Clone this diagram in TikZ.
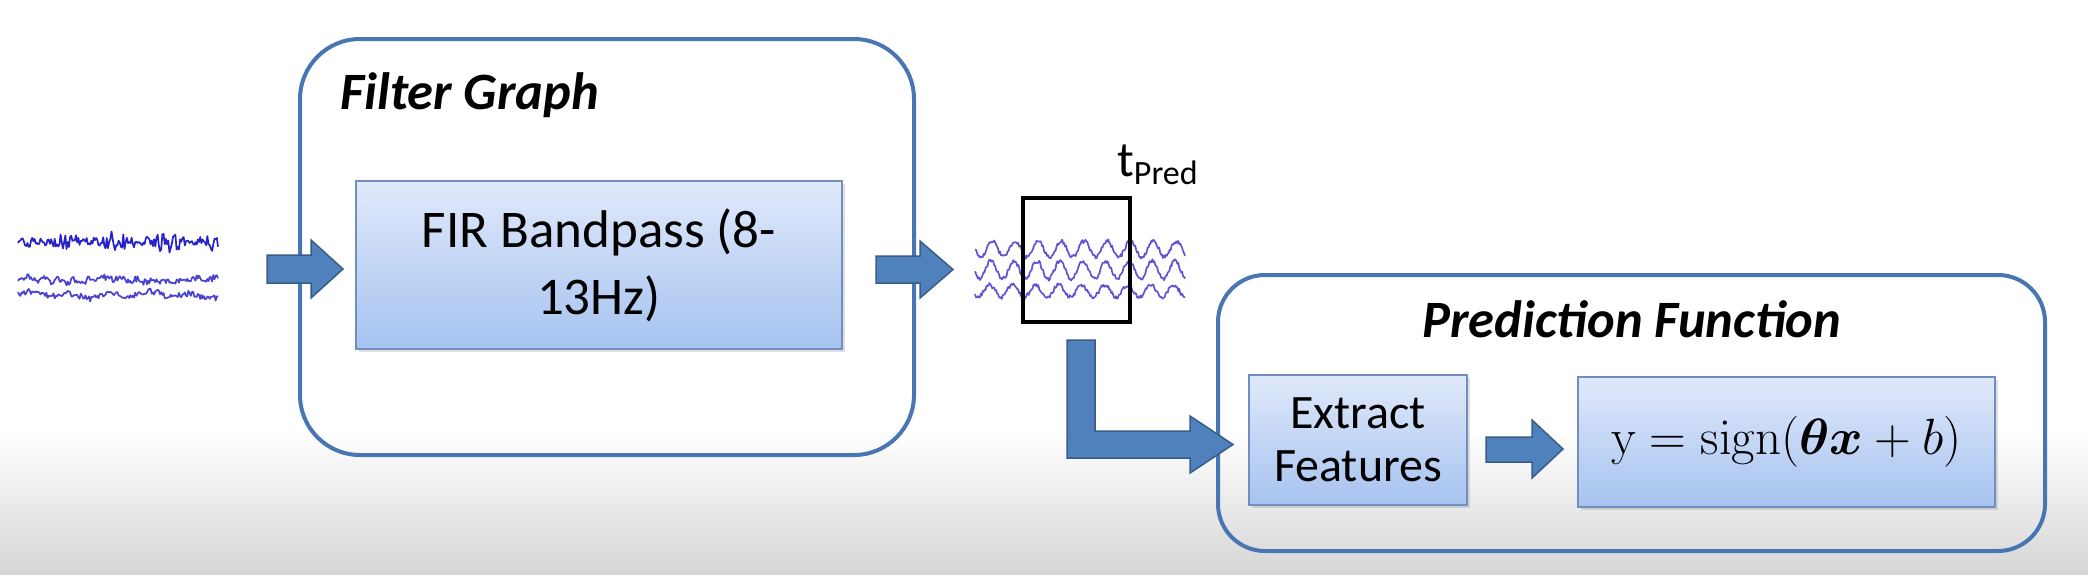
\RequirePackage{fix-cm}
\documentclass[tikz,border=0pt]{standalone}
\usepackage{amsmath}
\usepackage[no-math]{fontspec}
\setmainfont{Carlito}
\usetikzlibrary{shadows}
\definecolor{frameblue}{RGB}{72,118,178}
\definecolor{arrowfill}{RGB}{79,129,189}
\definecolor{arrowline}{RGB}{56,93,138}
\definecolor{boxtop}{RGB}{224,233,250}
\definecolor{boxbot}{RGB}{166,195,240}
\definecolor{boxline}{RGB}{112,142,190}
\definecolor{eegdark}{RGB}{40,35,200}
\definecolor{eeglight}{RGB}{95,85,210}
\begin{document}
\begin{tikzpicture}[x=1pt,y=-1pt,
  groupbox/.style={draw=frameblue, line width=4pt, rounded corners=#1, inner sep=0pt},
  groupbox/.default=60pt,
  procbox/.style={draw=boxline, line width=2pt, top color=boxtop, bottom color=boxbot,
    drop shadow={shadow xshift=3pt, shadow yshift=-3pt, opacity=0.25},
    inner sep=0pt, align=center},
  blockarrow/.style={fill=arrowfill, draw=arrowline, line width=1.5pt, line join=miter},
  eeg/.style={line width=1.7pt, line join=round},
  title/.style={anchor=base west, inner sep=0pt, font=\fontsize{52.5}{60}\selectfont\bfseries\itshape},
]
% background
\fill[white] (0,0) rectangle (2088,574);
\shade[top color=white, bottom color=gray!32] (0,430) rectangle (2088,574);
\useasboundingbox (0,0) rectangle (2088,574);

% group boxes
\node[groupbox=60pt, minimum width=614, minimum height=416] (filtergraph) at (607,247) {};
\node[groupbox=47pt, minimum width=827, minimum height=276] (predbox) at (1631.5,413) {};
\node[title] (fgtitle) at (340,109) {Filter Graph};
\node[title] (pftitle) at (1422,337) {Prediction Function};

% processing boxes
\node[procbox, minimum width=486, minimum height=168, font=\fontsize{53}{67}\selectfont]
  (fir) at (599,265) {FIR Bandpass (8-\\13Hz)};
\node[procbox, minimum width=218, minimum height=130, font=\fontsize{48}{53}\selectfont]
  (extract) at (1358,440) {Extract\\Features};
\node[procbox, minimum width=417, minimum height=130, font=\fontsize{51}{56}\selectfont]
  (classify) at (1786.5,442) {$\mathrm{y} = \operatorname{sign}(\boldsymbol{\theta}\boldsymbol{x} + b)$};

% raw EEG traces
\pgfmathsetseed{11}
\draw[eeg, eegdark] plot[domain=18:218, samples=170]
  (\x, {242 + 6*rand*(1+0.6*sin(\x*7)) + 2*sin(\x*41)});
\draw[eeg, eegdark!85] plot[domain=18:218, samples=170]
  (\x, {280 + 3.2*rand + 1.5*sin(\x*23) - 1.5*sin(\x*4)});
\draw[eeg, eegdark!85] plot[domain=18:218, samples=170]
  (\x, {295 + 3*rand + 2*sin(\x*9) - 1.5*sin(\x*3)});

% filtered EEG traces
\draw[eeg, eeglight] plot[domain=975:1185, samples=220]
  (\x, {249 + 8*sin((\x-975)*15.652) + 2*rand});
\draw[eeg, eeglight] plot[domain=975:1185, samples=220]
  (\x, {270 + 9*sin((\x-975)*15.652 + 20) + 2*rand});
\draw[eeg, eeglight] plot[domain=975:1185, samples=220]
  (\x, {291 + 6*sin((\x-975)*15.652 + 40) + 2*rand});

% prediction window
\node[draw=black, line width=4pt, minimum width=107, minimum height=124, inner sep=0pt]
  (window) at (1076.5,260) {};
\node[anchor=base west, inner sep=0pt] (tpred) at (1117,176)
  {\fontsize{50}{50}\selectfont t\raisebox{-8pt}{\fontsize{34}{34}\selectfont Pred}};

% block arrows
\path[blockarrow] (267,255) -- (311,255) -- (311,240) -- (343,269)
  -- (311,298) -- (311,283) -- (267,283) -- cycle;
\path[blockarrow] (876,256) -- (920,256) -- (920,241) -- (953,269.5)
  -- (920,298) -- (920,283) -- (876,283) -- cycle;
\path[blockarrow] (1067,340) -- (1095,340) -- (1095,431) -- (1190,431) -- (1190,416)
  -- (1233,444.5) -- (1190,473) -- (1190,458) -- (1067,458) -- cycle;
\path[blockarrow] (1486,437) -- (1532,437) -- (1532,420) -- (1563,449)
  -- (1532,478) -- (1532,462) -- (1486,462) -- cycle;
\end{tikzpicture}
\end{document}
